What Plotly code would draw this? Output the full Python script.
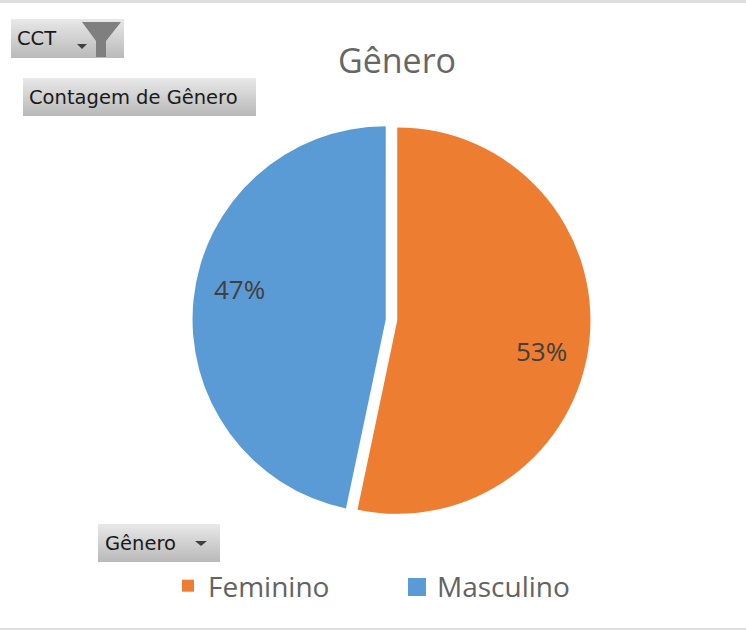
import plotly.graph_objects as go

categories = ["Feminino", "Masculino"]
values = [53.3, 46.7]
colors = ["#ED7D31", "#5B9BD5"]
title_text = "Gênero"
W, H = 746, 630

fig = go.Figure(go.Pie(
    labels=categories, values=values, sort=False, direction="clockwise", rotation=0,
    pull=0.03, marker=dict(colors=colors, line=dict(width=0)),
    textinfo="none",
    domain=dict(x=[(391.5-199)/W, (391.5+199)/W], y=[1-(320-199)/H, 1-(320+199)/H][::-1]),
    hoverinfo="label+percent",
))

shapes, annotations = [], []

def px(x0, y0, x1, y1, color):
    shapes.append(dict(type="rect", xref="paper", yref="paper", x0=x0/W, x1=x1/W,
                       y0=1-y0/H, y1=1-y1/H, fillcolor=color, line=dict(width=0), layer="below"))

def button(x0, y0, x1, y1, label, tx):
    n = y1 - y0
    for i in range(n):
        t = i/max(n-1, 1)
        v = int(232 - t*(232-186))
        px(x0, y0+i, x1, y0+i+1, f"rgb({v},{v},{v})")
    annotations.append(dict(text=label, xref="paper", yref="paper", x=tx/W, y=1-(y0+y1)/2/H,
                            xanchor="left", yanchor="middle", showarrow=False, xshift=-2,
                            font=dict(family="DejaVu Sans", size=19.5, color="#1a1a1a")))

def poly(points, color):
    d = "M" + " L".join(f"{x/W:.5f},{1-y/H:.5f}" for x, y in points) + " Z"
    shapes.append(dict(type="path", path=d, xref="paper", yref="paper",
                       fillcolor=color, line=dict(width=0)))

def pct(i, x, y):
    annotations.append(dict(text=f"{round(100*values[i]/sum(values))}%", xref="paper", yref="paper",
                            x=x/W, y=1-y/H, xanchor="center", yanchor="middle", showarrow=False,
                            font=dict(family="Open Sans", size=26, color="#404040")))

px(0, 0, W, 3, "#DEDEDE")
px(0, 628, W, 630, "#DEDEDE")
button(11, 19, 124, 58, "CCT", 17)
button(23, 78, 256, 116, "Contagem de Gênero", 29)
button(98, 524, 220, 562, "Gênero", 105)
poly([(82, 22), (121, 22), (106, 41), (106, 57), (96, 57), (96, 41)], "#7f7f7f")
poly([(77, 44), (87, 44), (82, 49)], "#404040")
poly([(195, 541), (207, 541), (201, 546)], "#404040")
px(408, 578, 426, 596, colors[1])
pct(0, 541, 351)
pct(1, 239, 289)

fig.update_layout(
    width=W, height=H, margin=dict(l=0, r=0, t=0, b=0),
    paper_bgcolor="white", plot_bgcolor="white",
    title=dict(text=title_text, x=397/W, xanchor="center", y=1-61/H, yanchor="middle",
               font=dict(family="Open Sans", size=34, color="#666666")),
    legend=dict(orientation="h", x=168/W, xanchor="left", y=1-586/H, yanchor="middle",
                entrywidth=184, entrywidthmode="pixels",
                font=dict(family="Open Sans", size=28, color="#636363"),
                bgcolor="rgba(0,0,0,0)", traceorder="normal"),
    showlegend=True, shapes=shapes, annotations=annotations,
)
fig.write_html("out.html", config={"displayModeBar": False},
               post_script="document.body.style.margin='0';document.documentElement.style.overflow='hidden';")
